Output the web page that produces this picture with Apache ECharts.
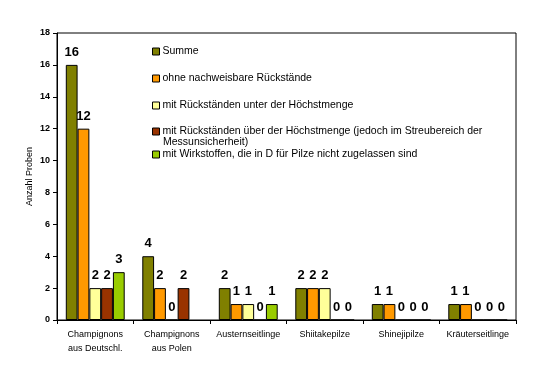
<!DOCTYPE html>
<html>
<head>
<meta charset="utf-8">
<script src="https://cdn.jsdelivr.net/npm/echarts@6/dist/echarts.min.js"></script>
<style>html,body{margin:0;padding:0;background:#fff;}#c{width:555px;height:371px;}</style>
</head>
<body>
<div id="c"></div>
<script>
const categories = ['Champignons\naus Deutschl.', 'Champignons\naus Polen', 'Austernseitlinge', 'Shiitakepilze', 'Shinejipilze', 'Kräuterseitlinge'];
const seriesNames = [
  'Summe',
  'ohne nachweisbare Rückstände',
  'mit Rückständen unter der Höchstmenge',
  'mit Rückständen über der Höchstmenge (jedoch im Streubereich der Messunsicherheit)',
  'mit Wirkstoffen, die in D für Pilze nicht zugelassen sind'
];
const summe = [16, 4, 2, 2, 1, 1];
const ohne = [12, 2, 1, 2, 1, 1];
const unter = [2, 0, 1, 2, 0, 0];
const ueber = [2, 2, 0, 0, 0, 0];
const wirk = [3, null, 1, 0, 0, 0];
const yTicks = { min: 0, max: 18, interval: 2 };

const colors = ['#808000', '#FF9900', '#FFFF99', '#993300', '#99CC00'];
const values = [summe, ohne, unter, ueber, wirk];
const FONT = '"Liberation Sans", Arial, sans-serif';

const series = seriesNames.map((n, i) => ({
  name: n,
  type: 'bar',
  data: values[i],
  barGap: '0%',
  barCategoryGap: '23%',
  itemStyle: { color: colors[i], borderColor: '#000', borderWidth: 1 },
  label: { show: true, position: 'top', distance: 6, color: '#000', fontWeight: 'bold', fontSize: 13, fontFamily: FONT },
  emphasis: { disabled: true }
}));

const legendTops = [46, 73, 100, 126, 149];
const legends = seriesNames.map((n, i) => ({
  data: [n],
  left: 152,
  top: legendTops[i],
  padding: 0,
  itemWidth: 7,
  itemHeight: 7,
  itemGap: 0,
  icon: 'rect',
  selectedMode: false,
  formatter: i === 3 ? () => 'mit Rückständen über der Höchstmenge (jedoch im Streubereich der' : undefined,
  itemStyle: { borderColor: '#000', borderWidth: 1 },
  textStyle: { fontSize: 10.5, fontFamily: FONT, color: '#000', padding: [0, 0, 0, -2] }
}));

const chart = echarts.init(document.getElementById('c'));
chart.setOption({
  animation: false,
  backgroundColor: '#fff',
  grid: { left: 57, right: 39, top: 33, bottom: 51, show: true, borderColor: '#000', borderWidth: 1, backgroundColor: 'transparent' },
  legend: legends,
  graphic: [{
    type: 'text', left: 163, top: 137,
    style: { text: 'Messunsicherheit)', fontSize: 10.5, fontFamily: FONT, fill: '#000' }
  }],
  xAxis: {
    type: 'category',
    data: categories,
    axisLine: { lineStyle: { color: '#000', width: 1 } },
    axisTick: { show: true, interval: 0, length: 4, lineStyle: { color: '#000' } },
    axisLabel: { interval: 0, fontSize: 9, fontFamily: FONT, color: '#000', lineHeight: 14, margin: 8 }
  },
  yAxis: {
    type: 'value',
    min: yTicks.min, max: yTicks.max, interval: yTicks.interval,
    name: 'Anzahl Proben',
    nameLocation: 'middle',
    nameGap: 23,
    nameMoveOverlap: false,
    nameTextStyle: { fontSize: 9, fontFamily: FONT, color: '#000' },
    axisLine: { show: true, lineStyle: { color: '#000', width: 1 } },
    axisTick: { show: true, length: 4, lineStyle: { color: '#000' } },
    splitLine: { show: false },
    axisLabel: { fontSize: 9, fontWeight: 'bold', fontFamily: FONT, color: '#000', margin: 7 }
  },
  series: series
});
</script>
</body>
</html>
